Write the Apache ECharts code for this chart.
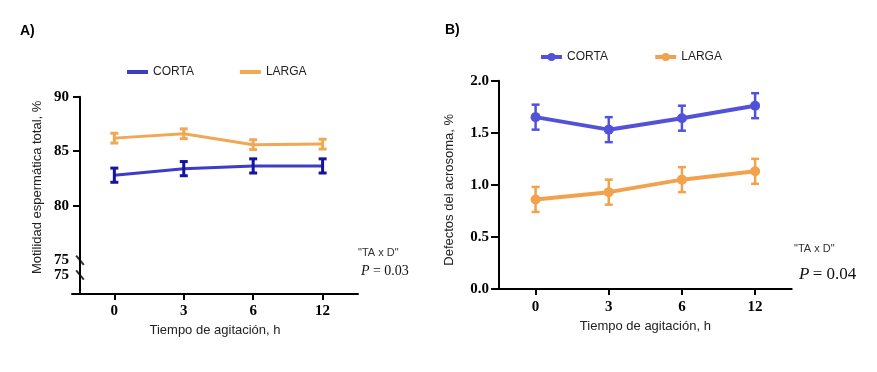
<!DOCTYPE html>
<html>
<head>
<meta charset="utf-8">
<script src="https://cdn.jsdelivr.net/npm/echarts@6/dist/echarts.min.js"></script>
<style>html,body{margin:0;padding:0;background:#fff}#c{width:877px;height:372px}</style>
</head>
<body>
<div id="c"></div>
<script>
// ---- data ----
const timeLabels = ['0', '3', '6', '12'];
const timeIndex = [0, 1, 2, 3];

const motCorta = [82.8, 83.4, 83.65, 83.65];
const motCortaErr = [0.65, 0.65, 0.65, 0.65];
const motLarga = [86.2, 86.6, 85.6, 85.65];
const motLargaErr = [0.45, 0.45, 0.45, 0.45];

const acrCorta = [1.65, 1.53, 1.64, 1.76];
const acrCortaErr = [0.12, 0.12, 0.12, 0.12];
const acrLarga = [0.86, 0.93, 1.05, 1.13];
const acrLargaErr = [0.12, 0.12, 0.12, 0.12];

const motTickValues = [73.64, 75, 80, 85, 90];
const motTickLabels = ['75', '75', '80', '85', '90'];
const motBreakValues = [75, 73.64];
const acrTickValues = [0, 0.5, 1.0, 1.5, 2.0];
const acrTickLabels = ['0.0', '0.5', '1.0', '1.5', '2.0'];

// ---- helpers ----
const pts = (vals) => vals.map((v, i) => [timeIndex[i], v]);
const errPts = (vals, errs) => vals.map((v, i) => [timeIndex[i], v - errs[i], v + errs[i]]);

function errRender(color, cap, width) {
  return function (params, api) {
    const x = api.value(0), lo = api.value(1), hi = api.value(2);
    const a = api.coord([x, hi]), b = api.coord([x, lo]);
    const st = { stroke: color, lineWidth: width };
    return {
      type: 'group', children: [
        { type: 'line', shape: { x1: a[0], y1: a[1], x2: b[0], y2: b[1] }, style: st },
        { type: 'line', shape: { x1: a[0] - cap, y1: a[1], x2: a[0] + cap, y2: a[1] }, style: st },
        { type: 'line', shape: { x1: b[0] - cap, y1: b[1], x2: b[0] + cap, y2: b[1] }, style: st }
      ]
    };
  };
}

const SANS = 'Liberation Sans, Arial, sans-serif';
const SERIF = 'Liberation Serif, Times New Roman, serif';
const axisLine = { show: true, onZero: false, lineStyle: { color: '#000', width: 2 } };
const tickFont = { fontFamily: SERIF, fontWeight: 'bold', fontSize: 15, color: '#000' };

const cA = '#3c3cc6', cAerr = '#14149e', oA = '#f0a855';
const cB = '#5252d9', oB = '#f2a24c';

const chart = echarts.init(document.getElementById('c'));
chart.setOption({
  animation: false,
  backgroundColor: '#fff',
  grid: [
    { left: 72, right: 519, top: 96.7, bottom: 78 },
    { left: 499, right: 85.3, top: 80.7, bottom: 83 }
  ],
  legend: [
    {
      left: 127, top: 66, padding: 0, itemWidth: 21, itemHeight: 4, itemGap: 46, icon: 'rect',
      textStyle: { fontFamily: SANS, fontSize: 12, color: '#222' },
      data: ['CORTA', 'LARGA']
    },
    {
      left: 539, top: 51, padding: 0, itemWidth: 21, itemHeight: 10, itemGap: 42,
      lineStyle: { width: 4 },
      textStyle: { fontFamily: SANS, fontSize: 12, color: '#222' },
      data: ['CORTA ', 'LARGA ']
    }
  ],
  xAxis: [
    {
      gridIndex: 0, type: 'value', min: -0.61, max: 3.51,
      name: 'Tiempo de agitación, h', nameLocation: 'middle', nameGap: 29,
      nameTextStyle: { fontFamily: SANS, fontSize: 13, color: '#222' },
      axisLine: axisLine, splitLine: { show: false },
      axisTick: { show: true, customValues: timeIndex, length: 6, lineStyle: { color: '#000', width: 2 } },
      axisLabel: Object.assign({
        customValues: timeIndex, margin: 10,
        formatter: (v) => timeLabels[timeIndex.indexOf(v)]
      }, tickFont)
    },
    {
      gridIndex: 1, type: 'value', min: -0.5, max: 3.5,
      name: 'Tiempo de agitación, h', nameLocation: 'middle', nameGap: 31,
      nameTextStyle: { fontFamily: SANS, fontSize: 13, color: '#222' },
      axisLine: axisLine, splitLine: { show: false },
      axisTick: { show: true, customValues: timeIndex, length: 6, lineStyle: { color: '#000', width: 2 } },
      axisLabel: Object.assign({
        customValues: timeIndex, margin: 11,
        formatter: (v) => timeLabels[timeIndex.indexOf(v)]
      }, tickFont)
    }
  ],
  yAxis: [
    {
      gridIndex: 0, type: 'value', min: 71.9, max: 90, offset: -8,
      name: 'Motilidad espermática total, %', nameLocation: 'middle', nameGap: 36,
      nameTextStyle: { fontFamily: SANS, fontSize: 13, color: '#222', padding: [0, 0, 0, 16] },
      axisLine: axisLine, splitLine: { show: false },
      axisTick: { show: true, customValues: [80, 85, 90], length: 7, lineStyle: { color: '#000', width: 2 } },
      axisLabel: Object.assign({
        customValues: motTickValues, margin: 11,
        formatter: (v) => motTickLabels[motTickValues.indexOf(v)]
      }, tickFont)
    },
    {
      gridIndex: 1, type: 'value', min: 0, max: 2, interval: 0.5,
      name: 'Defectos del acrosoma, %', nameLocation: 'middle', nameGap: 43,
      nameTextStyle: { fontFamily: SANS, fontSize: 13, color: '#222', padding: [0, 10, 0, 0] },
      axisLine: axisLine, splitLine: { show: false },
      axisTick: { show: true, length: 8, lineStyle: { color: '#000', width: 2 } },
      axisLabel: Object.assign({
        margin: 10,
        formatter: (v) => acrTickLabels[acrTickValues.indexOf(v)]
      }, tickFont)
    }
  ],
  series: [
    // Panel A
    { name: 'CORTA', type: 'line', xAxisIndex: 0, yAxisIndex: 0, data: pts(motCorta),
      symbol: 'none', lineStyle: { color: cA, width: 3 }, itemStyle: { color: cA }, z: 2 },
    { name: 'LARGA', type: 'line', xAxisIndex: 0, yAxisIndex: 0, data: pts(motLarga),
      symbol: 'none', lineStyle: { color: oA, width: 3 }, itemStyle: { color: oA }, z: 2 },
    { type: 'custom', xAxisIndex: 0, yAxisIndex: 0, data: errPts(motCorta, motCortaErr),
      encode: { x: 0, y: [1, 2] }, renderItem: errRender(cAerr, 4, 3), z: 3, silent: true },
    { type: 'custom', xAxisIndex: 0, yAxisIndex: 0, data: errPts(motLarga, motLargaErr),
      encode: { x: 0, y: [1, 2] }, renderItem: errRender(oA, 4, 3), z: 3, silent: true },
    // axis break marks
    { type: 'scatter', xAxisIndex: 0, yAxisIndex: 0, silent: true, clip: false,
      data: motBreakValues.map(v => [-0.495, v]),
      symbol: 'rect', symbolSize: [2, 12], symbolRotate: 40, itemStyle: { color: '#000' }, z: 5 },
    // Panel B
    { name: 'CORTA ', type: 'line', xAxisIndex: 1, yAxisIndex: 1, data: pts(acrCorta),
      symbol: 'circle', symbolSize: 10, lineStyle: { color: cB, width: 4 }, itemStyle: { color: cB }, z: 3 },
    { name: 'LARGA ', type: 'line', xAxisIndex: 1, yAxisIndex: 1, data: pts(acrLarga),
      symbol: 'circle', symbolSize: 10, lineStyle: { color: oB, width: 4 }, itemStyle: { color: oB }, z: 3 },
    { type: 'custom', xAxisIndex: 1, yAxisIndex: 1, data: errPts(acrCorta, acrCortaErr),
      encode: { x: 0, y: [1, 2] }, renderItem: errRender(cB, 4, 2.5), z: 2, silent: true },
    { type: 'custom', xAxisIndex: 1, yAxisIndex: 1, data: errPts(acrLarga, acrLargaErr),
      encode: { x: 0, y: [1, 2] }, renderItem: errRender(oB, 4, 2.5), z: 2, silent: true }
  ],
  graphic: [
    { type: 'text', left: 20, top: 24, style: { text: 'A)', font: 'bold 14px ' + SANS, fill: '#000' } },
    { type: 'text', left: 445, top: 23, style: { text: 'B)', font: 'bold 14px ' + SANS, fill: '#000' } },
    { type: 'text', left: 358, top: 247, style: { text: '"TA x D"', font: '11px ' + SANS, fill: '#333' } },
    { type: 'text', left: 361, top: 264, style: {
        text: '{i|P} {n|= 0.03}',
        rich: { i: { fontFamily: SERIF, fontStyle: 'italic', fontSize: 14, fill: '#111' },
                n: { fontFamily: SERIF, fontSize: 14, fill: '#111' } } } },
    { type: 'text', left: 794, top: 243, style: { text: '"TA x D"', font: '11px ' + SANS, fill: '#333' } },
    { type: 'text', left: 799, top: 266, style: {
        text: '{i|P} {n|= 0.04}',
        rich: { i: { fontFamily: SERIF, fontStyle: 'italic', fontSize: 17, fill: '#111' },
                n: { fontFamily: SERIF, fontSize: 17, fill: '#111' } } } }
  ]
});
</script>
</body>
</html>
